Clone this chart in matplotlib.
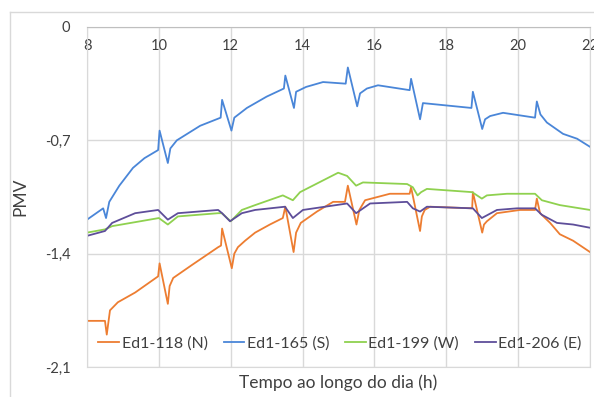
import matplotlib
matplotlib.use("Agg")
import matplotlib.pyplot as plt
from matplotlib.lines import Line2D
from matplotlib.ticker import FuncFormatter

plt.rcParams['font.family'] = ['Lato', 'DejaVu Sans']

# Ed1-118 (N)
t_n = [8.0, 8.5, 8.55, 8.64, 8.86, 9.34, 9.98, 10.02, 10.25, 10.3, 10.4, 10.92, 11.65, 11.73, 11.76,
       12.03, 12.1, 12.2, 12.4, 12.68, 13.09, 13.45, 13.52, 13.75, 13.82, 13.95, 14.4, 14.85, 15.18,
       15.26, 15.5, 15.58, 15.74, 16.43, 16.98, 17.02, 17.27, 17.32, 17.4, 17.55, 18.72, 18.74, 19.0,
       19.05, 19.13, 19.41, 20.05, 20.47, 20.52, 20.61, 20.89, 21.16, 21.53, 22.0]
v_n = [-1.815, -1.815, -1.90, -1.75, -1.70, -1.64, -1.54, -1.46, -1.71, -1.60, -1.55, -1.47, -1.36,
       -1.35, -1.245, -1.49, -1.40, -1.36, -1.32, -1.27, -1.22, -1.18, -1.11, -1.39, -1.27, -1.21,
       -1.14, -1.08, -1.08, -0.98, -1.22, -1.13, -1.07, -1.03, -1.03, -0.99, -1.26, -1.17, -1.13,
       -1.11, -1.12, -1.02, -1.27, -1.22, -1.20, -1.15, -1.13, -1.13, -1.06, -1.15, -1.21, -1.28,
       -1.32, -1.39]

# Ed1-165 (S)
t_s = [8.0, 8.45, 8.53, 8.62, 8.9, 9.28, 9.6, 9.98, 10.02, 10.25, 10.32, 10.5, 11.15, 11.72, 11.76,
       12.02, 12.1, 12.45, 13.0, 13.48, 13.52, 13.76, 13.82, 14.1, 14.57, 15.2, 15.26, 15.52, 15.6,
       15.79, 16.1, 16.98, 17.02, 17.27, 17.35, 18.7, 18.74, 19.0, 19.08, 19.22, 19.58, 20.47, 20.52,
       20.62, 20.8, 21.25, 21.64, 22.0]
v_s = [-1.19, -1.12, -1.18, -1.08, -0.98, -0.87, -0.81, -0.76, -0.64, -0.84, -0.75, -0.70, -0.61,
       -0.56, -0.45, -0.64, -0.56, -0.50, -0.43, -0.38, -0.30, -0.50, -0.40, -0.37, -0.34, -0.35,
       -0.25, -0.49, -0.41, -0.38, -0.36, -0.39, -0.32, -0.57, -0.47, -0.50, -0.40, -0.63, -0.57,
       -0.55, -0.53, -0.56, -0.46, -0.54, -0.59, -0.66, -0.69, -0.74]

# Ed1-199 (W)
t_w = [8.0, 8.5, 8.7, 10.0, 10.25, 10.53, 11.65, 11.75, 12.0, 12.31, 12.68, 13.45, 13.73, 13.93,
       14.99, 15.24, 15.49, 15.68, 16.91, 17.07, 17.2, 17.3, 17.46, 18.72, 18.99, 19.13, 19.69,
       20.47, 20.66, 21.16, 22.0]
v_w = [-1.27, -1.25, -1.23, -1.18, -1.22, -1.17, -1.15, -1.15, -1.20, -1.13, -1.10, -1.04, -1.07,
       -1.02, -0.90, -0.92, -0.98, -0.96, -0.97, -0.99, -1.04, -1.02, -1.00, -1.02, -1.06, -1.04,
       -1.03, -1.03, -1.07, -1.10, -1.13]

# Ed1-206 (E)
t_e = [8.0, 8.5, 8.7, 9.34, 9.98, 10.25, 10.53, 11.65, 11.76, 11.98, 12.31, 12.68, 13.51, 13.73,
       14.01, 15.24, 15.49, 15.88, 16.91, 17.07, 17.27, 17.46, 18.74, 18.99, 19.41, 19.97, 20.47,
       20.66, 21.08, 21.53, 22.0]
v_e = [-1.29, -1.26, -1.21, -1.15, -1.13, -1.19, -1.15, -1.13, -1.15, -1.20, -1.15, -1.13, -1.11,
       -1.18, -1.13, -1.09, -1.15, -1.09, -1.08, -1.12, -1.14, -1.11, -1.12, -1.18, -1.13, -1.12,
       -1.12, -1.16, -1.21, -1.22, -1.24]

series = [
    (t_n, v_n, 'Ed1-118 (N)', '#ED7D31'),
    (t_s, v_s, 'Ed1-165 (S)', '#4A86D8'),
    (t_w, v_w, 'Ed1-199 (W)', '#8FD14F'),
    (t_e, v_e, 'Ed1-206 (E)', '#5E4E9A'),
]
x_ticks = [8, 10, 12, 14, 16, 18, 20, 22]
y_ticks = [0, -0.7, -1.4, -2.1]

fig = plt.figure(figsize=(5.94, 3.97), dpi=100)
ax = fig.add_axes([87 / 594, 1 - 367 / 397, 503 / 594, 340 / 397])

for t, v, name, col in series:
    ax.plot(t, v, color=col, lw=1.3, label=name)

ax.set_xlim(8, 22)
ax.set_ylim(-2.1, 0)
ax.set_xticks(x_ticks)
ax.set_yticks(y_ticks)
ax.yaxis.set_major_formatter(FuncFormatter(lambda v, p: '0' if v == 0 else f'{v:.1f}'.replace('.', ',')))
ax.xaxis.tick_top()
ax.tick_params(axis='both', length=0, labelsize=10.5, colors='#404040')
ax.tick_params(axis='x', pad=-19)
ax.tick_params(axis='y', pad=12)
ax.grid(True, color='#D9D9D9', lw=1)
ax.set_axisbelow(True)
for s in ax.spines.values():
    s.set_color('#D9D9D9')
ax.spines['top'].set_color('#BFBFBF')

ax.set_ylabel('PMV', fontsize=12.5, color='#404040', labelpad=12)
ax.set_xlabel('Tempo ao longo do dia (h)', fontsize=12.5, color='#404040', labelpad=5)

ax.legend(loc='center', bbox_to_anchor=(0.503, 0.07), ncol=4, frameon=False,
          fontsize=11.5, handlelength=1.3, handletextpad=0.15, columnspacing=1.0,
          labelcolor='#404040')

# outer chart frame
fig.add_artist(Line2D([10 / 594, 10 / 594], [0, 1 - 12 / 397], transform=fig.transFigure,
                      color='#D9D9D9', lw=1))
fig.add_artist(Line2D([10 / 594, 1], [1 - 12 / 397, 1 - 12 / 397], transform=fig.transFigure,
                      color='#D9D9D9', lw=1))

fig.savefig('out.png', dpi=100)
